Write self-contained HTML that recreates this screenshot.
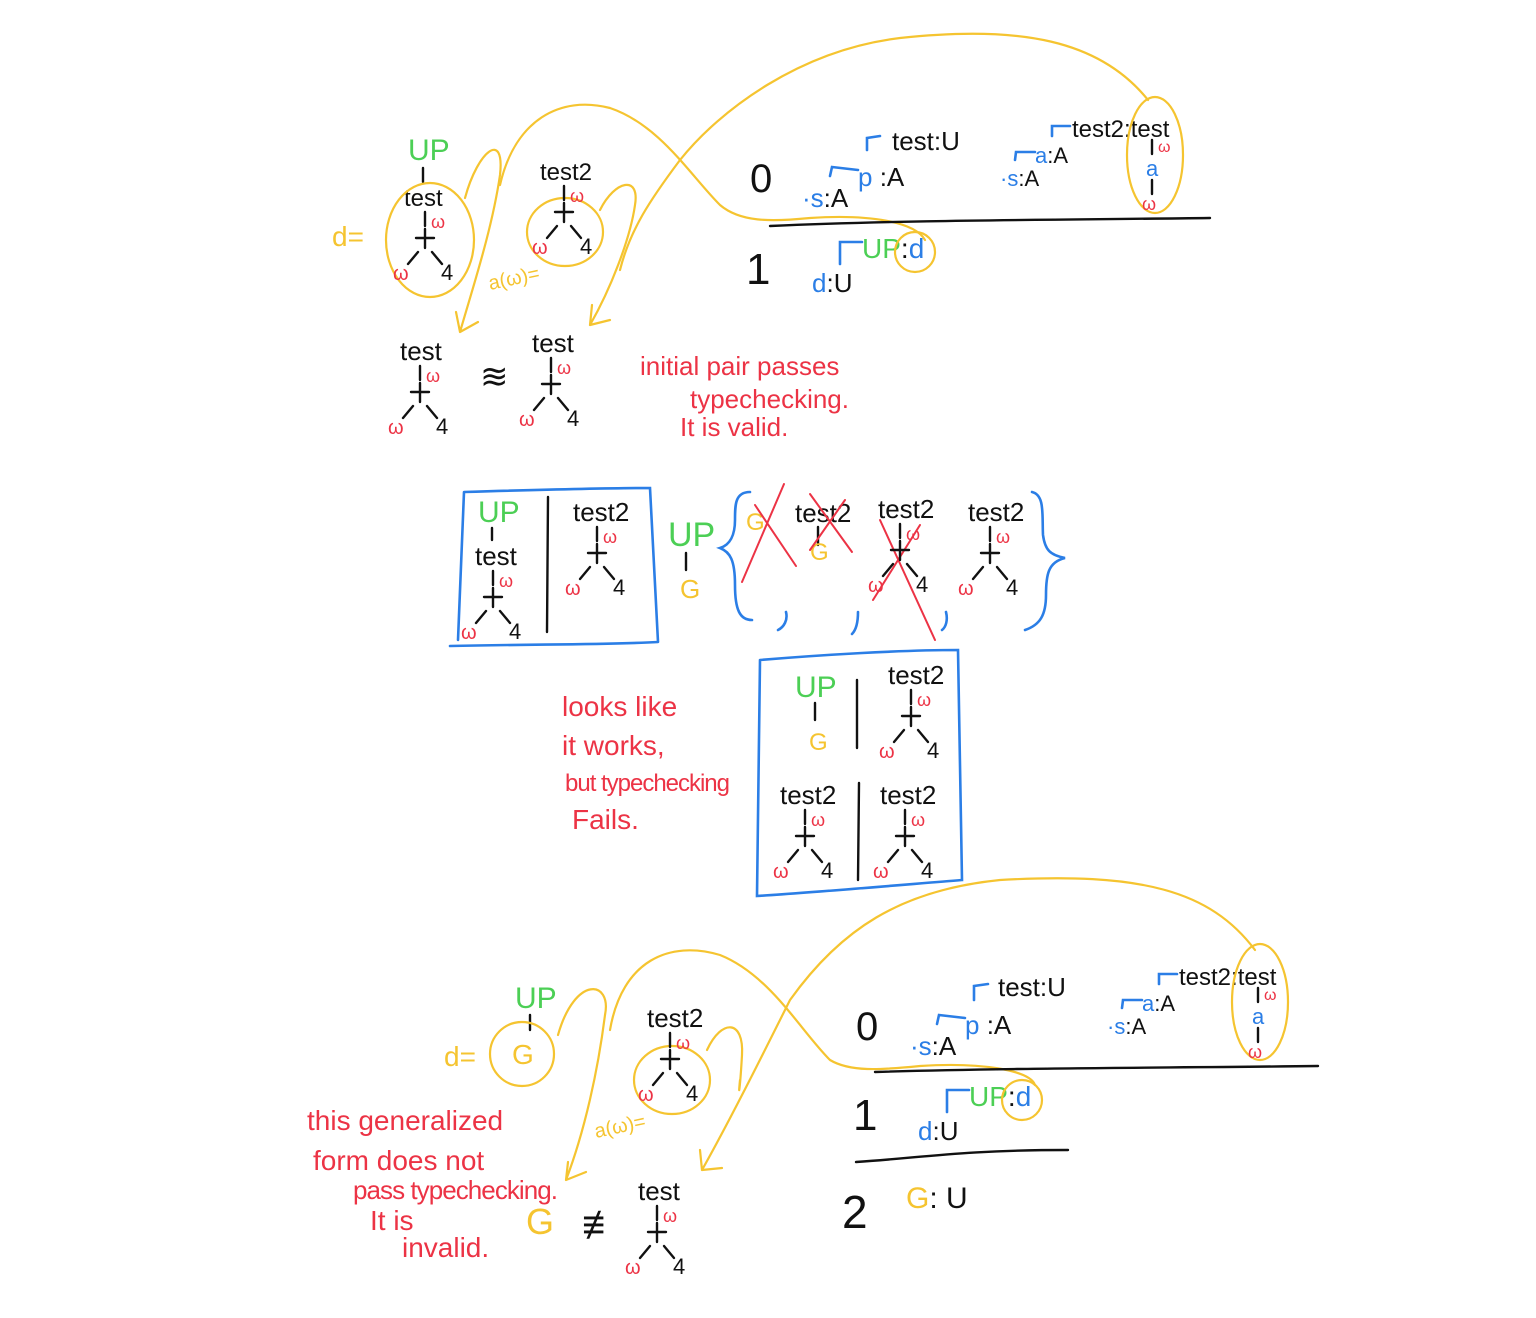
<!DOCTYPE html>
<html><head><meta charset="utf-8"><style>
html,body{margin:0;padding:0;background:#fff}
svg{display:block}
text{font-family:"Liberation Sans",sans-serif}
.k{fill:#111}.g{fill:#4ccf55}.b{fill:#2b7ee6}.r{fill:#ec3345}.y{fill:#f5c430}
.ys{stroke:#f5c430;fill:none;stroke-width:2.2;stroke-linecap:round}
.bs{stroke:#2b7ee6;fill:none;stroke-width:2.6;stroke-linecap:round}
.ks{stroke:#111;fill:none;stroke-width:2.4;stroke-linecap:round}
.rs{stroke:#ec3345;fill:none;stroke-width:2;stroke-linecap:round}
</style></head><body>
<svg id="s" width="1536" height="1318" viewBox="0 0 1536 1318" xmlns="http://www.w3.org/2000/svg">
<g font-size="26">
<!-- TOP SECTION -->
<text x="408" y="160" font-size="30" class="g">UP</text>
<line x1="423" y1="168" x2="423" y2="182" class="ks"/>
<text x="404" y="206" font-size="24" class="k">test</text>
<text x="540" y="180" font-size="24" class="k">test2</text>
<text x="332" y="246" font-size="28" class="y">d=</text>
<ellipse cx="430" cy="240" rx="44" ry="57" class="ys"/>
<ellipse cx="565" cy="232" rx="38" ry="34" class="ys"/>
<text x="490" y="290" font-size="20" class="y" transform="rotate(-12 490 290)">a(ω)=</text>
<path class="ys" d="M465,198 C478,150 505,130 500,175 C492,230 472,290 460,332 M460,332 L456,312 M460,332 L478,322"/>
<path class="ys" d="M500,185 C515,120 560,95 610,108 C660,125 690,175 720,205 C740,222 770,222 810,218 C870,214 915,222 925,240"/>
<path class="ys" d="M600,210 C615,180 640,175 635,205 C630,240 610,290 590,325 M590,325 L592,305 M590,325 L610,320"/>
<path class="ys" d="M1148,100 C1100,40 1020,25 900,38 C800,50 720,110 680,160 C650,200 630,230 620,270"/>
<text x="750" y="192" font-size="40" class="k">0</text>
<path class="ks" d="M770,226 C900,220 1050,220 1210,218"/>
<text x="746" y="284" font-size="44" class="k">1</text>
<path class="bs" d="M867,150 L867,138 L880,136"/>
<text x="892" y="150" class="k">test:U</text>
<path class="bs" d="M830,176 L832,167 L858,170"/>
<text x="858" y="186" class="k"><tspan class="b">p</tspan> :A</text>
<text x="802" y="207" class="k"><tspan class="b">·s</tspan>:A</text>
<path class="bs" d="M1052,136 L1052,126 L1070,126"/>
<text x="1072" y="137" font-size="24" class="k">test2:test</text>
<path class="bs" d="M1015,160 L1016,152 L1035,152"/>
<text x="1035" y="163" font-size="22" class="k"><tspan class="b">a</tspan>:A</text>
<text x="1000" y="186" font-size="22" class="k"><tspan class="b">·s</tspan>:A</text>
<ellipse cx="1155" cy="155" rx="28" ry="58" class="ys"/>
<line x1="1152" y1="140" x2="1152" y2="154" class="ks"/>
<text x="1158" y="152" font-size="16" class="r">ω</text>
<text x="1146" y="176" font-size="22" class="b">a</text>
<line x1="1152" y1="180" x2="1152" y2="194" class="ks"/>
<text x="1142" y="210" font-size="18" class="r">ω</text>
<path class="bs" d="M840,264 L840,242 L862,242"/>
<text x="862" y="258" font-size="28"><tspan class="g">UP</tspan><tspan class="k">:</tspan><tspan class="b">d</tspan></text>
<circle cx="915" cy="252" r="20" class="ys"/>
<text x="812" y="292" font-size="26"><tspan class="b">d</tspan><tspan class="k">:U</tspan></text>

<text x="400" y="360" class="k">test</text>
<text x="480" y="388" font-size="34" class="k">≋</text>
<text x="532" y="352" class="k">test</text>
<g font-size="26" class="r">
<text x="640" y="375">initial pair passes</text>
<text x="690" y="408">typechecking.</text>
<text x="680" y="436">It is valid.</text>
</g>

<!-- MIDDLE -->
<path class="bs" d="M464,492 C530,490 600,488 650,488 L658,642 M450,646 C540,644 600,645 658,642 M464,492 L458,640"/>
<text x="478" y="522" font-size="30" class="g">UP</text>
<line x1="492" y1="528" x2="492" y2="540" class="ks"/>
<text x="475" y="565" class="k">test</text>
<line x1="548" y1="497" x2="547" y2="632" class="ks"/>
<text x="573" y="521" class="k">test2</text>
<text x="668" y="546" font-size="34" class="g">UP</text>
<line x1="686" y1="553" x2="686" y2="570" class="ks"/>
<text x="680" y="598" font-size="26" class="y">G</text>
<path class="bs" d="M750,492 C735,492 735,505 735,520 C735,535 730,545 720,548 C730,552 735,560 735,585 C735,610 740,620 752,620"/>
<path class="bs" d="M1032,492 C1045,495 1042,515 1043,535 C1045,550 1050,555 1065,558 C1048,562 1046,575 1046,595 C1046,615 1040,625 1025,630"/>
<path class="bs" d="M786,612 C788,620 784,627 778,630 M858,612 C858,622 856,630 852,634 M946,612 C948,620 946,627 942,630"/>
<text x="746" y="530" font-size="24" class="y">G</text>
<path class="rs" d="M784,484 L742,582 M755,505 L796,566"/>
<text x="795" y="522" class="k">test2</text>
<line x1="818" y1="527" x2="818" y2="545" class="ks"/>
<text x="810" y="560" font-size="24" class="y">G</text>
<path class="rs" d="M845,500 L810,550 M810,494 L852,552"/>
<text x="878" y="518" class="k">test2</text>
<text x="968" y="521" class="k">test2</text>
<path class="rs" d="M880,520 L935,640 M920,525 L873,600"/>

<g class="r" font-size="28">
<text x="562" y="716">looks like</text>
<text x="562" y="755">it works,</text>
<text x="565" y="791" font-size="24" textLength="165">but typechecking</text>
<text x="572" y="829">Fails.</text>
</g>
<path class="bs" d="M760,660 C820,655 900,650 958,650 L962,880 C900,885 820,892 757,896 L760,660"/>
<text x="795" y="697" font-size="30" class="g">UP</text>
<line x1="815" y1="703" x2="815" y2="720" class="ks"/>
<text x="809" y="750" font-size="24" class="y">G</text>
<line x1="857" y1="680" x2="857" y2="748" class="ks"/>
<text x="888" y="684" class="k">test2</text>
<line x1="859" y1="783" x2="858" y2="880" class="ks"/>
<text x="780" y="804" class="k">test2</text>
<text x="880" y="804" class="k">test2</text>

<!-- BOTTOM -->
<text x="515" y="1008" font-size="30" class="g">UP</text>
<line x1="530" y1="1015" x2="530" y2="1030" class="ks"/>
<text x="444" y="1066" font-size="28" class="y">d=</text>
<circle cx="522" cy="1054" r="32" class="ys"/>
<text x="512" y="1064" font-size="28" class="y">G</text>
<text x="647" y="1027" class="k">test2</text>
<ellipse cx="672" cy="1080" rx="38" ry="34" class="ys"/>
<text x="596" y="1138" font-size="20" class="y" transform="rotate(-12 596 1138)">a(ω)=</text>
<path class="ys" d="M558,1035 C575,975 612,980 605,1015 C598,1070 585,1130 566,1180 M566,1180 L568,1162 M566,1180 L586,1172"/>
<path class="ys" d="M610,1030 C622,960 670,940 720,955 C770,975 800,1030 830,1060 C850,1072 880,1070 920,1066 C980,1062 1030,1070 1035,1085"/>
<path class="ys" d="M707,1050 C722,1018 744,1020 742,1055 C740,1090 738,1100 740,1080"/>
<path class="ys" d="M1255,950 C1210,890 1140,872 1000,880 C900,890 840,930 790,1000 C760,1060 730,1120 702,1170 M702,1170 L700,1150 M702,1170 L722,1168"/>
<g class="r" font-size="28">
<text x="307" y="1130">this generalized</text>
<text x="313" y="1170">form does not</text>
<text x="353" y="1199" font-size="26" textLength="205">pass typechecking.</text>
<text x="370" y="1230">It is</text>
<text x="402" y="1257">invalid.</text>
</g>
<text x="526" y="1234" font-size="36" class="y">G</text>
<text x="582" y="1238" font-size="40" class="k">≢</text>
<text x="638" y="1200" class="k">test</text>
<text x="856" y="1040" font-size="40" class="k">0</text>
<path class="ks" d="M875,1072 C1000,1068 1150,1068 1318,1066"/>
<text x="853" y="1130" font-size="44" class="k">1</text>
<path class="ks" d="M856,1162 C920,1158 960,1150 1068,1150"/>
<text x="842" y="1228" font-size="46" class="k">2</text>
<text x="906" y="1208" font-size="30"><tspan class="y">G</tspan><tspan class="k">: U</tspan></text>
<path class="bs" d="M974,1000 L974,986 L988,984"/>
<text x="998" y="996" class="k">test:U</text>
<path class="bs" d="M937,1024 L939,1015 L965,1018"/>
<text x="965" y="1034" class="k"><tspan class="b">p</tspan> :A</text>
<text x="910" y="1055" class="k"><tspan class="b">·s</tspan>:A</text>
<path class="bs" d="M1159,984 L1159,974 L1177,974"/>
<text x="1179" y="985" font-size="24" class="k">test2:test</text>
<path class="bs" d="M1122,1008 L1123,1000 L1142,1000"/>
<text x="1142" y="1011" font-size="22" class="k"><tspan class="b">a</tspan>:A</text>
<text x="1107" y="1034" font-size="22" class="k"><tspan class="b">·s</tspan>:A</text>
<ellipse cx="1260" cy="1002" rx="28" ry="58" class="ys"/>
<line x1="1258" y1="988" x2="1258" y2="1002" class="ks"/>
<text x="1264" y="1000" font-size="16" class="r">ω</text>
<text x="1252" y="1024" font-size="22" class="b">a</text>
<line x1="1258" y1="1028" x2="1258" y2="1042" class="ks"/>
<text x="1248" y="1058" font-size="18" class="r">ω</text>
<path class="bs" d="M947,1112 L947,1090 L969,1090"/>
<text x="969" y="1106" font-size="28"><tspan class="g">UP</tspan><tspan class="k">:</tspan><tspan class="b">d</tspan></text>
<circle cx="1022" cy="1100" r="20" class="ys"/>
<text x="918" y="1140" font-size="26"><tspan class="b">d</tspan><tspan class="k">:U</tspan></text>
</g>
<g id="trees"></g>
</svg>
<script>
const treeStems = [[425,212],[564,186],[420,366],[551,358],[493,571],[597,527],[900,524],[990,527],[911,690],[805,810],[905,810],[670,1033],[657,1206]];
const NS='http://www.w3.org/2000/svg';
const tg=document.getElementById('trees');
function mk(tag,attrs,parent){const e=document.createElementNS(NS,tag);for(const k in attrs)e.setAttribute(k,attrs[k]);parent.appendChild(e);return e;}
treeStems.forEach(function(p,i){
  const sx=p[0], sy=p[1];
  const g=mk('g',{},tg);
  
  
  mk('path',{d:`M${sx},${sy} L${sx},${sy+14} M${sx-9},${sy+26} L${sx+9},${sy+26} M${sx},${sy+17} L${sx},${sy+36} M${sx-7},${sy+40} L${sx-17},${sy+52} M${sx+7},${sy+40} L${sx+17},${sy+52}`,class:'ks'},g);
  const w1=mk('text',{x:sx+6,y:sy+16,'font-size':18,class:'r'},g); w1.textContent='ω';
  const w2=mk('text',{x:sx-32,y:sy+68,'font-size':20,class:'r'},g); w2.textContent='ω';
  const f=mk('text',{x:sx+16,y:sy+68,'font-size':22,class:'k'},g); f.textContent='4';
});
</script>
</body></html>
